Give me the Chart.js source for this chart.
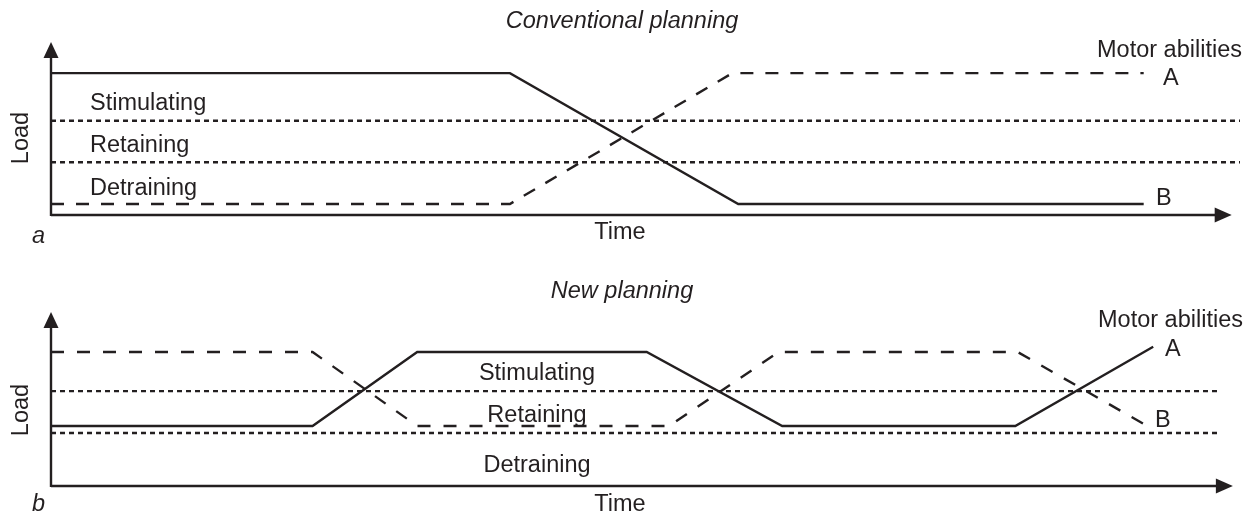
<!DOCTYPE html>
<html>
<head>
<meta charset="utf-8">
<script src="https://cdn.jsdelivr.net/npm/chart.js@4/dist/chart.umd.min.js"></script>
<style>
  html, body { margin: 0; padding: 0; background: #ffffff; }
  #wrap { position: relative; width: 1253px; height: 513px; overflow: hidden; }
  canvas { position: absolute; left: 0; }
  #ca { top: 0; }
  #cb { top: 256px; }
</style>
</head>
<body>
<div id="wrap">
  <canvas id="ca" width="1253" height="256"></canvas>
  <canvas id="cb" width="1253" height="257"></canvas>
</div>
<script>
// ---------- DATA ----------
// Panel a: Conventional planning
const TIME_A_SOLID  = [0, 38.6, 57.8, 91.9];
const LOAD_A_SOLID  = [8.2, 8.2, 0.64, 0.64];
const TIME_A_DASHED = [0, 38.6, 57.3, 91.9];
const LOAD_A_DASHED = [0.64, 0.64, 8.2, 8.2];
// Panel b: New planning
const TIME_B_SOLID  = [0, 22.0, 30.8, 50.1, 61.5, 81.1, 92.7];
const LOAD_B_SOLID  = [3.45, 3.45, 7.7, 7.7, 3.45, 3.45, 8.0];
const TIME_B_DASHED = [0, 22.0, 30.8, 52.0, 61.2, 81.3, 92.2];
const LOAD_B_DASHED = [7.7, 7.7, 3.45, 3.45, 7.7, 7.7, 3.45];
// Zone thresholds (dotted lines) and their extent in time
const ZONE_THRESHOLDS = [3.05, 5.45];
const ZONE_END_A = 100;
const ZONE_END_B = 98.3;
const ZONE_LABELS = ['Stimulating', 'Retaining', 'Detraining'];
const TITLES = ['Conventional planning', 'New planning'];
const PANEL_LETTERS = ['a', 'b'];
const X_LABEL = 'Time';
const Y_LABEL = 'Load';
const SERIES_LABEL = 'Motor abilities';
const SERIES_NAMES = ['A', 'B'];

// ---------- STYLE ----------
const INK = '#231f20';
const FONT = '"Liberation Sans", Arial, Helvetica, sans-serif';
const FS = 23.5;
const LW = 2.4;

function pts(xs, ys) { return xs.map((x, i) => ({ x: x, y: ys[i] })); }

function zoneSets(end) {
  return ZONE_THRESHOLDS.map(t => ({
    data: pts([0, end], [t, t]),
    borderColor: INK, borderWidth: LW, borderDash: [5, 4],
    pointRadius: 0, tension: 0, fill: false, order: 3
  }));
}

function makeChart(id, cfg) {
  const axesPlugin = {
    id: 'axes' + id,
    beforeDatasetsDraw(chart) {
      const ctx = chart.ctx, xs = chart.scales.x, ys = chart.scales.y;
      const x0 = xs.getPixelForValue(0), y0 = ys.getPixelForValue(0);
      const yTop = ys.getPixelForValue(ys.max);
      const xTip = xs.getPixelForValue(cfg.arrowX);
      ctx.save();
      ctx.strokeStyle = INK; ctx.fillStyle = INK; ctx.lineWidth = LW;
      ctx.beginPath();
      ctx.moveTo(x0, y0); ctx.lineTo(xTip - 10, y0);
      ctx.moveTo(x0, y0 + 1); ctx.lineTo(x0, yTop + 10);
      ctx.stroke();
      // x arrow
      ctx.beginPath();
      ctx.moveTo(xTip, y0); ctx.lineTo(xTip - 17, y0 - 7.5); ctx.lineTo(xTip - 17, y0 + 7.5); ctx.closePath();
      ctx.fill();
      // y arrow
      ctx.beginPath();
      ctx.moveTo(x0, yTop); ctx.lineTo(x0 - 7.5, yTop + 16); ctx.lineTo(x0 + 7.5, yTop + 16); ctx.closePath();
      ctx.fill();
      ctx.restore();
    },
    afterDatasetsDraw(chart) {
      const ctx = chart.ctx;
      ctx.save();
      ctx.fillStyle = INK;
      ctx.textBaseline = 'alphabetic';
      cfg.texts.forEach(t => {
        ctx.font = (t.italic ? 'italic ' : '') + FS + 'px ' + FONT;
        ctx.textAlign = t.align || 'left';
        if (t.rot) {
          ctx.save();
          ctx.translate(t.x, t.y);
          ctx.rotate(-Math.PI / 2);
          ctx.fillText(t.s, 0, 0);
          ctx.restore();
        } else {
          ctx.fillText(t.s, t.x, t.y);
        }
      });
      ctx.restore();
    }
  };
  return new Chart(document.getElementById(id), {
    type: 'line',
    data: { datasets: cfg.datasets },
    options: {
      responsive: false, animation: false, devicePixelRatio: 1,
      layout: { padding: cfg.padding },
      scales: {
        x: { type: 'linear', min: 0, max: 100, display: false },
        y: { type: 'linear', min: 0, max: 10, display: false }
      },
      plugins: { legend: { display: false }, tooltip: { enabled: false }, title: { display: false } },
      elements: { line: { capBezierPoints: false } }
    },
    plugins: [axesPlugin]
  });
}

// Panel a
makeChart('ca', {
  padding: { left: 51, right: 13, top: 42, bottom: 41 },
  arrowX: 99.3,
  datasets: [
    ...zoneSets(ZONE_END_A),
    { data: pts(TIME_A_DASHED, LOAD_A_DASHED), borderColor: INK, borderWidth: LW, borderDash: [13, 12],
      pointRadius: 0, tension: 0, fill: false, order: 2 },
    { data: pts(TIME_A_SOLID, LOAD_A_SOLID), borderColor: INK, borderWidth: LW,
      pointRadius: 0, tension: 0, fill: false, order: 1 }
  ],
  texts: [
    { s: TITLES[0], x: 622, y: 28, align: 'center', italic: true },
    { s: Y_LABEL, x: 28, y: 138, align: 'center', rot: true },
    { s: ZONE_LABELS[0], x: 90, y: 110 },
    { s: ZONE_LABELS[1], x: 90, y: 152 },
    { s: ZONE_LABELS[2], x: 90, y: 195 },
    { s: PANEL_LETTERS[0], x: 32, y: 243, italic: true },
    { s: X_LABEL, x: 620, y: 239, align: 'center' },
    { s: SERIES_LABEL, x: 1097, y: 57 },
    { s: SERIES_NAMES[0], x: 1163, y: 85 },
    { s: SERIES_NAMES[1], x: 1156, y: 205 }
  ]
});

// Panel b (canvas offset 256px)
const OB = 256;
makeChart('cb', {
  padding: { left: 51, right: 13, top: 56, bottom: 27 },
  arrowX: 99.4,
  datasets: [
    ...zoneSets(ZONE_END_B),
    { data: pts(TIME_B_DASHED, LOAD_B_DASHED), borderColor: INK, borderWidth: LW, borderDash: [13, 13],
      pointRadius: 0, tension: 0, fill: false, order: 2 },
    { data: pts(TIME_B_SOLID, LOAD_B_SOLID), borderColor: INK, borderWidth: LW,
      pointRadius: 0, tension: 0, fill: false, order: 1 }
  ],
  texts: [
    { s: TITLES[1], x: 622, y: 298 - OB, align: 'center', italic: true },
    { s: Y_LABEL, x: 28, y: 410 - OB, align: 'center', rot: true },
    { s: ZONE_LABELS[0], x: 537, y: 380 - OB, align: 'center' },
    { s: ZONE_LABELS[1], x: 537, y: 422 - OB, align: 'center' },
    { s: ZONE_LABELS[2], x: 537, y: 472 - OB, align: 'center' },
    { s: PANEL_LETTERS[1], x: 32, y: 511 - OB, italic: true },
    { s: X_LABEL, x: 620, y: 511 - OB, align: 'center' },
    { s: SERIES_LABEL, x: 1098, y: 327 - OB },
    { s: SERIES_NAMES[0], x: 1165, y: 356 - OB },
    { s: SERIES_NAMES[1], x: 1155, y: 427 - OB }
  ]
});
</script>
</body>
</html>
